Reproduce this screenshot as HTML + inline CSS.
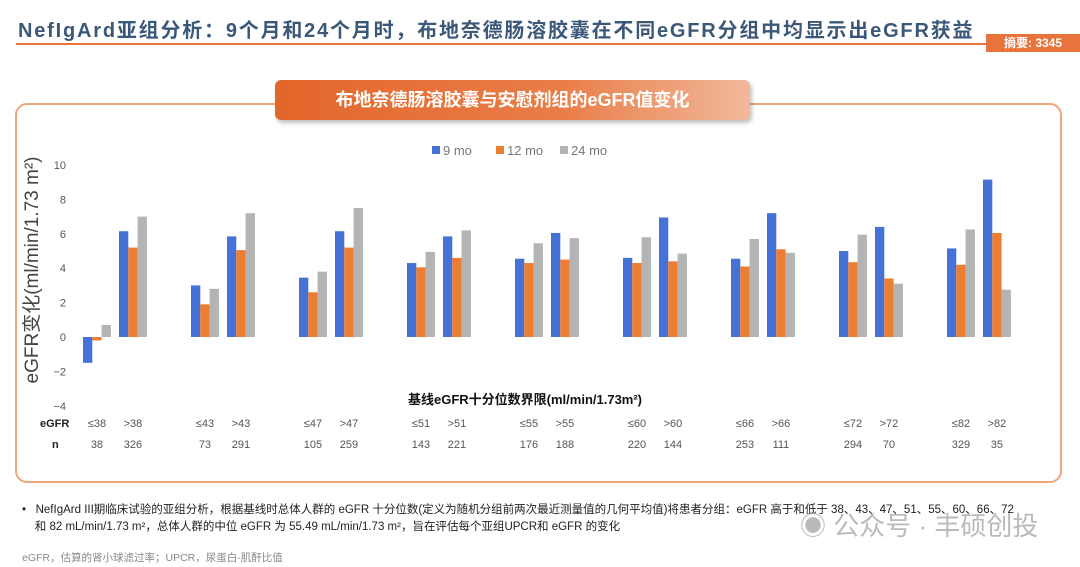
<!DOCTYPE html>
<html><head><meta charset="utf-8"><style>
body{margin:0;width:1080px;height:567px;overflow:hidden;background:#fff;font-family:"Liberation Sans","Noto Sans CJK SC",sans-serif;position:relative}
.abs{position:absolute}
</style></head><body>
<div class="abs" style="left:18px;top:14px;font-size:20px;font-weight:bold;color:#3b5878;letter-spacing:1.8px;white-space:nowrap">NefIgArd亚组分析：9个月和24个月时，布地奈德肠溶胶囊在不同eGFR分组中均显示出eGFR获益</div>
<div class="abs" style="left:16px;top:43px;width:970px;height:2px;background:#e8743b"></div>
<div class="abs" style="left:986px;top:34px;width:94px;height:18px;background:#e8743b;color:#fff;font-size:12px;font-weight:bold;line-height:18px;text-align:center">摘要: 3345</div>
<div class="abs" style="left:15px;top:103px;width:1043px;height:376px;border:2px solid #f0a57a;border-radius:12px"></div>
<div class="abs" style="left:275px;top:80px;width:475px;height:40px;background:linear-gradient(90deg,#e3662a,#e97d48 60%,#f2b89a);border-radius:6px;box-shadow:2px 3px 4px rgba(0,0,0,0.25);color:#fff;font-size:18px;font-weight:bold;line-height:40px;text-align:center">布地奈德肠溶胶囊与安慰剂组的eGFR值变化</div>
<svg class="abs" style="left:0;top:0" width="1080" height="567" id="chart">
<text x="38" y="270" transform="rotate(-90 38 270)" text-anchor="middle" font-size="19" fill="#444">eGFR变化(ml/min/1.73 m²)</text>
<text x="525" y="404" text-anchor="middle" font-size="13" font-weight="bold" fill="#111">基线eGFR十分位数界限(ml/min/1.73m²)</text>
<text x="40" y="427" font-size="11" font-weight="bold" fill="#222">eGFR</text>
<text x="52" y="448" font-size="11" font-weight="bold" fill="#222">n</text>
</svg>
<div class="abs" style="left:22px;top:502px;font-size:11.5px;color:#222;line-height:17px;width:1010px">•&nbsp;&nbsp;&nbsp;NefIgArd III期临床试验的亚组分析，根据基线时总体人群的 eGFR 十分位数(定义为随机分组前两次最近测量值的几何平均值)将患者分组：eGFR 高于和低于 38、43、47、51、55、60、66、72<br>&nbsp;&nbsp;&nbsp;&nbsp;和 82 mL/min/1.73 m²，总体人群的中位 eGFR 为 55.49 mL/min/1.73 m²，旨在评估每个亚组UPCR和 eGFR 的变化</div>
<div class="abs" style="left:800px;top:506px;font-size:26px;color:#aaa;opacity:0.8">◉ 公众号 · 丰硕创投</div>
<div class="abs" style="left:22px;top:550px;font-size:10.5px;color:#888">eGFR，估算的肾小球滤过率；UPCR，尿蛋白-肌酐比值</div>
<script>
const categories=["≤38",">38","≤43",">43","≤47",">47","≤51",">51","≤55",">55","≤60",">60","≤66",">66","≤72",">72","≤82",">82"];
const nValues=[38,326,73,291,105,259,143,221,176,188,220,144,253,111,294,70,329,35];
const mo9=[-1.5,6.15,3.0,5.85,3.45,6.15,4.3,5.85,4.55,6.05,4.6,6.95,4.55,7.2,5.0,6.4,5.15,9.15];
const mo12=[-0.2,5.2,1.9,5.05,2.6,5.2,4.05,4.6,4.3,4.5,4.3,4.4,4.1,5.1,4.35,3.4,4.2,6.05];
const mo24=[0.7,7.0,2.8,7.2,3.8,7.5,4.95,6.2,5.45,5.75,5.8,4.85,5.7,4.9,5.95,3.1,6.25,2.75];
const seriesNames=["9 mo","12 mo","24 mo"];
const yTicks=[10,8,6,4,2,0,-2,-4];
const svg=document.getElementById('chart');
const NS='http://www.w3.org/2000/svg';
const colors=["#4472d6","#ed7d31","#b4b4b4"];
function y(v){return 337-v*17.2;}
function xc(i){return 83+Math.floor(i/2)*108+(i%2)*36;}
const bw=9.3;
function mk(t,a){const e=document.createElementNS(NS,t);for(const k in a)e.setAttribute(k,a[k]);svg.appendChild(e);return e;}
yTicks.forEach(v=>{const t=mk('text',{x:66,y:y(v)+4,'text-anchor':'end','font-size':11,fill:'#555'});t.textContent=v<0?'−'+(-v):v;

});
[mo9,mo12,mo24].forEach((s,si)=>{s.forEach((v,i)=>{const r=mk('rect',{x:xc(i)+si*bw,y:Math.min(y(v),y(0)),width:bw,height:Math.abs(y(v)-y(0)),fill:colors[si]});

});});
categories.forEach((c,i)=>{const cx=xc(i)+bw*1.5;
const t=mk('text',{x:cx,y:427,'text-anchor':'middle','font-size':11,fill:'#555'});t.textContent=c;


const n=mk('text',{x:cx,y:448,'text-anchor':'middle','font-size':11,fill:'#555'});n.textContent=nValues[i];

});
seriesNames.forEach((s,si)=>{const lx=432+si*64;
const r=mk('rect',{x:lx,y:146,width:8,height:8,fill:colors[si]});


const t=mk('text',{x:lx+11,y:155,'font-size':13,fill:'#777'});t.textContent=s;

});
</script>
</body></html>
